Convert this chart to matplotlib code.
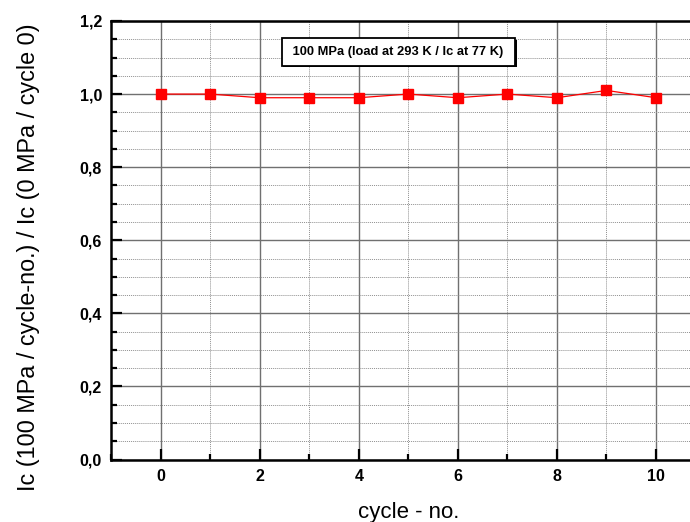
import matplotlib.pyplot as plt
import matplotlib.patheffects as pe
from matplotlib.ticker import MultipleLocator, FuncFormatter

cycles = [0, 1, 2, 3, 4, 5, 6, 7, 8, 9, 10]
ic_ratio = [1.00, 1.00, 0.99, 0.99, 0.99, 1.00, 0.99, 1.00, 0.99, 1.01, 0.99]
x_ticks = [0, 2, 4, 6, 8, 10]
note = "100 MPa (load at 293 K / Ic at 77 K)"

plt.rcParams['font.family'] = ['Liberation Sans', 'DejaVu Sans']

fig = plt.figure(figsize=(6.9, 5.22), dpi=100)
ax = fig.add_axes([0.1609, 0.1197, 0.8617, 0.8401])

ax.plot(cycles, ic_ratio, color='red', lw=0.9, marker='s', markersize=6.5,
        markeredgecolor='red', zorder=5)

ax.set_xlim(-1, 11)
ax.set_ylim(0, 1.2)
ax.set_xticks(x_ticks)
ax.xaxis.set_minor_locator(MultipleLocator(1))
ax.yaxis.set_major_locator(MultipleLocator(0.2))
ax.yaxis.set_minor_locator(MultipleLocator(0.05))
ax.yaxis.set_major_formatter(FuncFormatter(lambda v, p: f"{v:.1f}".replace('.', ',')))

ax.grid(which='major', color='#707070', lw=1.0, ls='-')
ax.grid(which='minor', color='#909090', lw=0.7, ls=(0, (1, 1)))
ax.set_axisbelow(True)

ax.tick_params(which='both', direction='in', top=False, right=False, width=1.6,
               labelsize=11.5)
ax.tick_params(which='major', length=8)
ax.tick_params(axis='y', which='major', pad=6.5)
ax.tick_params(axis='x', which='major', pad=7)
ax.tick_params(which='minor', length=4)
for lbl in ax.get_xticklabels() + ax.get_yticklabels():
    lbl.set_fontweight('bold')

for s in ax.spines.values():
    s.set_linewidth(1.8)

ax.set_xlabel("cycle - no.", fontsize=16, labelpad=13)
ax.set_ylabel("Ic (100 MPa / cycle-no.) / Ic (0 MPa / cycle 0)", fontsize=16.8)
ax.yaxis.set_label_coords(-0.12, 0.462)

t = ax.text(4.8, 1.115, " " + note + " ", fontsize=9.3, fontweight='bold', ha='center',
            va='center', zorder=6,
            bbox=dict(boxstyle='square,pad=0.6', fc='white', ec='black', lw=1.3))
t.get_bbox_patch().set_path_effects([
    pe.SimplePatchShadow(offset=(1.2, -1.2), shadow_rgbFace='black', alpha=1.0),
    pe.Normal()])

fig.savefig("out.png", dpi=100)
